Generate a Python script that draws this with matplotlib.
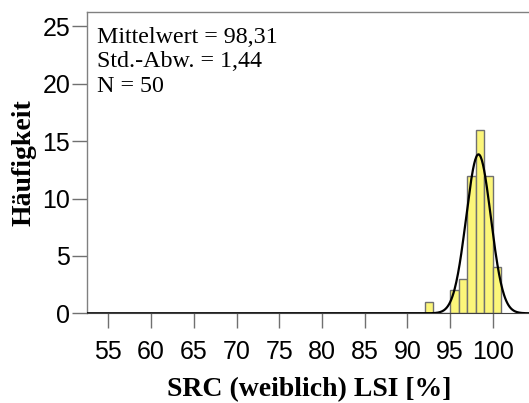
import numpy as np
import matplotlib.pyplot as plt

# Datos del histograma
bordes = [92, 93, 94, 95, 96, 97, 98, 99, 100, 101]
frecuencias = [1, 0, 0, 2, 3, 12, 16, 12, 4]
media = 98.31
desv = 1.44
n = 50
ticks_x = [55, 60, 65, 70, 75, 80, 85, 90, 95, 100]
ticks_y = [0, 5, 10, 15, 20, 25]

fig = plt.figure(figsize=(5.29, 4.03), dpi=100)
ax = fig.add_axes([0.1645, 0.2226, 0.84, 0.7474])

# Barras
ax.bar(bordes[:-1], frecuencias, width=np.diff(bordes), align='edge',
       color='#FCF67A', edgecolor='#707070', linewidth=1.0, zorder=2)

# Curva normal
x = np.linspace(52.5, 104.5, 800)
ancho = bordes[1] - bordes[0]
y = n * ancho / (desv * np.sqrt(2 * np.pi)) * np.exp(-0.5 * ((x - media) / desv) ** 2)
ax.plot(x, y, color='black', linewidth=1.6, zorder=3)

ax.set_xlim(52.5, 104.5)
ax.set_ylim(0, 26.25)
ax.set_xticks(ticks_x)
ax.set_yticks(ticks_y)
ax.tick_params(axis='both', length=11, width=1.0, color='#707070',
               labelsize=18)
ax.tick_params(axis='x', pad=8)
ax.tick_params(axis='y', pad=1)
for lab in ax.get_xticklabels() + ax.get_yticklabels():
    lab.set_fontfamily('Liberation Sans')

for s in ['left', 'top']:
    ax.spines[s].set_color('#808080')
    ax.spines[s].set_linewidth(1.0)
ax.spines['right'].set_visible(False)
ax.spines['bottom'].set_color('#404040')

ax.set_xlabel('SRC (weiblich) LSI [%]', fontfamily='Liberation Serif',
              fontweight='bold', fontsize=20, labelpad=10)
ax.set_ylabel('Häufigkeit', fontfamily='Liberation Serif',
              fontweight='bold', fontsize=20, labelpad=4)

ax.text(0.022, 0.95, 'Mittelwert = 98,31\nStd.-Abw. = 1,44\nN = 50',
        transform=ax.transAxes, va='top', ha='left',
        fontfamily='Liberation Serif', fontsize=17.3, linespacing=1.2)

fig.savefig('out.png', dpi=100)
